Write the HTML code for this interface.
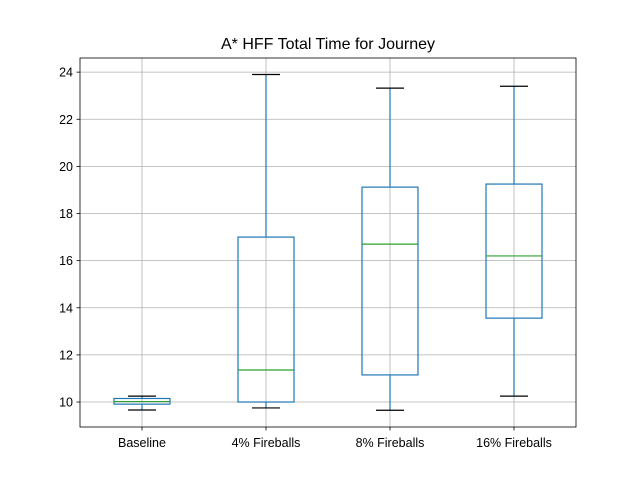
<!DOCTYPE html>
<html><head><meta charset="utf-8"><style>
body{margin:0;background:#fff;font-family:"Liberation Sans","DejaVu Sans",sans-serif;}
</style></head><body>
<svg id="chart" width="640" height="480" xmlns="http://www.w3.org/2000/svg"></svg>
<script>
const categories = ["Baseline","4% Fireballs","8% Fireballs","16% Fireballs"];
const whiskerLow = [9.66, 9.75, 9.65, 10.25];
const q1Values = [9.91, 10.0, 11.15, 13.56];
const medians = [10.02, 11.36, 16.7, 16.2];
const q3Values = [10.15, 17.0, 19.12, 19.25];
const whiskerHigh = [10.25, 23.9, 23.32, 23.4];
const yTicks = [10,12,14,16,18,20,22,24];

const L=80,R=576,T=58,B=427, yMin=8.94, yMax=24.6;
const svg=document.getElementById('chart'), NS='http://www.w3.org/2000/svg';
const y=v=>B-(v-yMin)/(yMax-yMin)*(B-T);
const x=i=>L+(R-L)*(i+0.5)/categories.length;
function mk(tag,attrs,parent){const e=document.createElementNS(NS,tag);for(const k in attrs)e.setAttribute(k,attrs[k]);(parent||svg).appendChild(e);return e;}

const title=mk('text',{x:(L+R)/2,y:49,'text-anchor':'middle','font-size':16,fill:'#000'});
title.textContent='A* HFF Total Time for Journey';



// grid
yTicks.forEach(t=>{
  const g=mk('line',{x1:L,x2:R,y1:y(t),y2:y(t),stroke:'#b0b0b0','stroke-width':0.8});
  
  
  mk('line',{x1:L-3.5,x2:L,y1:y(t),y2:y(t),stroke:'#000','stroke-width':0.8});
  const tx=mk('text',{x:L-7,y:y(t)+4.5,'text-anchor':'end','font-size':12.5,fill:'#000'});
  tx.textContent=t;
  
  
});
categories.forEach((c,i)=>{
  const g=mk('line',{x1:x(i),x2:x(i),y1:T,y2:B,stroke:'#b0b0b0','stroke-width':0.8});
  
  
  mk('line',{x1:x(i),x2:x(i),y1:B,y2:B+3.5,stroke:'#000','stroke-width':0.8});
  const tx=mk('text',{x:x(i),y:B+20,'text-anchor':'middle','font-size':12.5,fill:'#000'});
  tx.textContent=c;
  
  
});
// boxes
const hw=28, cw=14;
categories.forEach((c,i)=>{
  const g=mk('g',{});
  
  
  mk('line',{x1:x(i),x2:x(i),y1:y(whiskerLow[i]),y2:y(q1Values[i]),stroke:'#1f77b4','stroke-width':1.2},g);
  mk('line',{x1:x(i),x2:x(i),y1:y(q3Values[i]),y2:y(whiskerHigh[i]),stroke:'#1f77b4','stroke-width':1.2},g);
  mk('line',{x1:x(i)-cw,x2:x(i)+cw,y1:y(whiskerLow[i]),y2:y(whiskerLow[i]),stroke:'#000','stroke-width':1.2},g);
  mk('line',{x1:x(i)-cw,x2:x(i)+cw,y1:y(whiskerHigh[i]),y2:y(whiskerHigh[i]),stroke:'#000','stroke-width':1.2},g);
  mk('rect',{x:x(i)-hw,y:y(q3Values[i]),width:2*hw,height:y(q1Values[i])-y(q3Values[i]),fill:'none',stroke:'#1f77b4','stroke-width':1.2},g);
  mk('line',{x1:x(i)-hw,x2:x(i)+hw,y1:y(medians[i]),y2:y(medians[i]),stroke:'#2ca02c','stroke-width':1.2},g);
});
const frame=mk('rect',{x:L,y:T,width:R-L,height:B-T,fill:'none',stroke:'#000','stroke-width':0.8});


</script>
</body></html>
